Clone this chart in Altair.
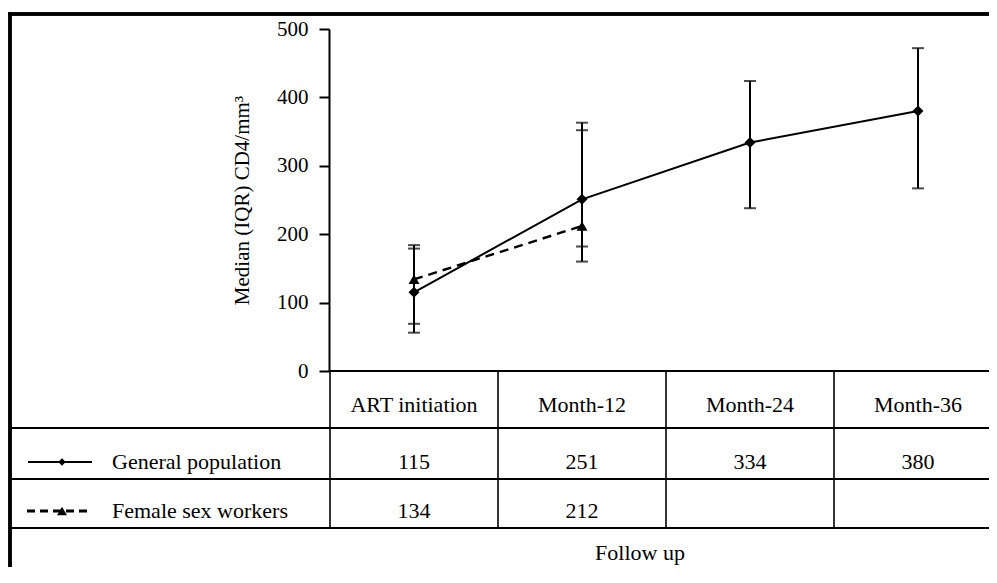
import altair as alt
import pandas as pd

# ---------------- data ----------------
CATS = ["ART initiation", "Month-12", "Month-24", "Month-36"]
GEN_MED = [115, 251, 334, 380]
GEN_Q1 = [56, 160, 238, 267]
GEN_Q3 = [179, 363, 424, 472]
FSW_MED = [134, 212]
FSW_Q1 = [69, 182]
FSW_Q3 = [184, 352]
SERIES = ["General population", "Female sex workers"]
Y_TICKS = [0, 100, 200, 300, 400, 500]
Y_TITLE = "Median (IQR) CD4/mm³"
X_TITLE = "Follow up"

gen = pd.DataFrame({"idx": list(range(len(GEN_MED))), "cat": CATS[:len(GEN_MED)],
                    "median": GEN_MED, "q1": GEN_Q1, "q3": GEN_Q3})
fsw = pd.DataFrame({"idx": list(range(len(FSW_MED))), "cat": CATS[:len(FSW_MED)],
                    "median": FSW_MED, "q1": FSW_Q1, "q3": FSW_Q3})
heads = pd.DataFrame({"idx": list(range(len(CATS))), "cat": CATS})
bounds = pd.DataFrame({"b": [i - 0.5 for i in range(len(CATS))]})

# ---------------- layout ----------------
W, H = 979, 553
COL_W = 168
FIRST_C = 404
xscale = alt.Scale(domain=[-FIRST_C / COL_W, (W - FIRST_C) / COL_W], nice=False, zero=False)
Y_TOP, Y_ZERO = 15, 357
yscale = alt.Scale(domain=[0, 500], range=[Y_ZERO, Y_TOP], nice=False)
ROW_LINES = [414, 465, 514]
TABLE_BOTTOM = 514
HEAD_Y, GEN_Y, FSW_Y = 391, 448, 497
FONT = "Liberation Serif"
FS = 22

yaxis = alt.Axis(values=Y_TICKS, offset=-319, tickSize=10, tickWidth=2, domainWidth=2,
                 domainColor="black", tickColor="black", labelFont=FONT, labelFontSize=21,
                 labelColor="black", labelPadding=11, titleFont=FONT, titleFontSize=21,
                 titleFontWeight="normal", titleColor="black", titlePadding=24, grid=False)


def X(field):
    return alt.X(field, scale=xscale, axis=None)


def Y(field):
    return alt.Y(field, scale=yscale, axis=yaxis, title=Y_TITLE)


layers = []

# frame
layers.append(alt.Chart(heads).mark_rule(color="black", strokeWidth=3).encode(
    x=alt.value(-1.5), x2=alt.value(W), y=alt.value(0)))
layers.append(alt.Chart(heads).mark_rule(color="black", strokeWidth=3).encode(
    x=alt.value(0), y=alt.value(-1.5), y2=alt.value(H)))

# x baseline
layers.append(alt.Chart(bounds.head(1)).mark_rule(color="black", strokeWidth=2).encode(
    x=X("b:Q"), x2=alt.value(W), y=alt.value(Y_ZERO)))
# vertical table lines
layers.append(alt.Chart(bounds).mark_rule(color="black", strokeWidth=1.6).encode(
    x=X("b:Q"), y=alt.value(Y_ZERO), y2=alt.value(TABLE_BOTTOM)))
# horizontal table lines
for yl in ROW_LINES:
    layers.append(alt.Chart(heads).mark_rule(color="black", strokeWidth=1.8).encode(
        x=alt.value(0), x2=alt.value(W), y=alt.value(yl)))

# data: error bars
for df in (gen, fsw):
    layers.append(alt.Chart(df).mark_rule(color="black", strokeWidth=2).encode(
        x=X("idx:Q"), y=Y("q1:Q"), y2="q3:Q"))
    for f in ("q1", "q3"):
        layers.append(alt.Chart(df).mark_tick(color="black", orient="horizontal",
                                              size=12, thickness=2).encode(
            x=X("idx:Q"), y=Y(f + ":Q")))

# lines
layers.append(alt.Chart(gen).mark_line(color="black", strokeWidth=2).encode(
    x=X("idx:Q"), y=Y("median:Q")))
layers.append(alt.Chart(fsw).mark_line(color="black", strokeWidth=2.4, strokeDash=[9, 6]).encode(
    x=X("idx:Q"), y=Y("median:Q")))
# points
layers.append(alt.Chart(gen).mark_point(shape="diamond", filled=True, size=120, color="black",
                                        opacity=1).encode(x=X("idx:Q"), y=Y("median:Q")))
layers.append(alt.Chart(fsw).mark_point(shape="triangle-up", filled=True, size=120, color="black",
                                        opacity=1).encode(x=X("idx:Q"), y=Y("median:Q")))

# table text
txt = dict(font=FONT, fontSize=FS, color="black", baseline="middle", align="center")
layers.append(alt.Chart(heads).mark_text(**txt).encode(x=X("idx:Q"), y=alt.value(HEAD_Y), text="cat:N"))
layers.append(alt.Chart(gen).mark_text(**txt).encode(x=X("idx:Q"), y=alt.value(GEN_Y), text="median:Q"))
layers.append(alt.Chart(fsw).mark_text(**txt).encode(x=X("idx:Q"), y=alt.value(FSW_Y), text="median:Q"))

lab = pd.DataFrame({"s": SERIES})
layers.append(alt.Chart(lab.iloc[[0]]).mark_text(font=FONT, fontSize=FS, color="black",
                                                 baseline="middle", align="left").encode(
    x=alt.value(102), y=alt.value(GEN_Y), text="s:N"))
layers.append(alt.Chart(lab.iloc[[1]]).mark_text(font=FONT, fontSize=FS, color="black",
                                                 baseline="middle", align="left").encode(
    x=alt.value(102), y=alt.value(FSW_Y), text="s:N"))

# legend symbols inside table
layers.append(alt.Chart(lab.iloc[[0]]).mark_rule(color="black", strokeWidth=2).encode(
    x=alt.value(18), x2=alt.value(82), y=alt.value(GEN_Y)))
layers.append(alt.Chart(lab.iloc[[0]]).mark_point(shape="diamond", filled=True, size=55,
                                                  color="black", opacity=1).encode(
    x=alt.value(52), y=alt.value(GEN_Y)))
layers.append(alt.Chart(lab.iloc[[1]]).mark_rule(color="black", strokeWidth=3.2,
                                                 strokeDash=[8, 5]).encode(
    x=alt.value(17), x2=alt.value(82), y=alt.value(FSW_Y)))
layers.append(alt.Chart(lab.iloc[[1]]).mark_point(shape="triangle-up", filled=True, size=100,
                                                  color="black", opacity=1).encode(
    x=alt.value(52), y=alt.value(FSW_Y)))

# x title
layers.append(alt.Chart(pd.DataFrame({"t": [X_TITLE]})).mark_text(**txt).encode(
    x=alt.value(630), y=alt.value(539), text="t:N"))

chart = alt.layer(*layers).properties(
    width=W, height=H,
    autosize=alt.AutoSizeParams(type="none"),
    padding={"left": 2, "top": 6, "right": 0, "bottom": 0},
    background="white",
).configure(font=FONT).configure_text(font=FONT).configure_view(stroke=None)

chart.save("out.html", embed_options={"renderer": "svg", "actions": False})
